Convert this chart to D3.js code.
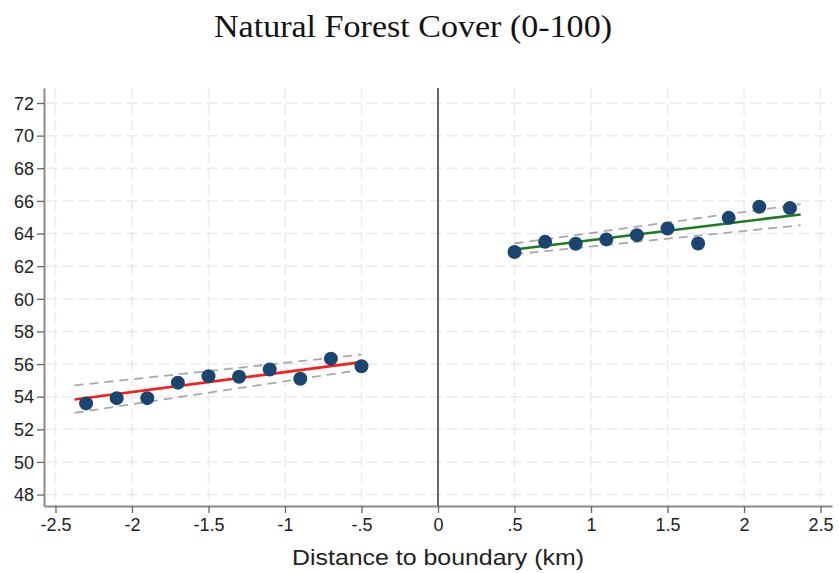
<!DOCTYPE html>
<html>
<head>
<meta charset="utf-8">
<script src="https://cdn.jsdelivr.net/npm/d3@7"></script>
<style>
  html, body { margin: 0; padding: 0; background: #fff; }
  svg { display: block; }
</style>
</head>
<body>
<svg id="chart" width="839" height="573"></svg>
<script>
// Binned means of natural forest cover by distance to the boundary (km)
const leftX  = [-2.3, -2.1, -1.9, -1.7, -1.5, -1.3, -1.1, -0.9, -0.7, -0.5];
const leftY  = [53.59, 53.91, 53.91, 54.86, 55.26, 55.22, 55.67, 55.10, 56.33, 55.87];
const rightX = [0.5, 0.7, 0.9, 1.1, 1.3, 1.5, 1.7, 1.9, 2.1, 2.3];
const rightY = [62.87, 63.49, 63.37, 63.64, 63.90, 64.31, 63.39, 64.96, 65.64, 65.56];

// Linear fits and their confidence bounds: [x, fit, lower, upper]
const leftFit  = [[-2.375, 53.83, 53.01, 54.69], [-0.5, 56.12, 55.65, 56.58]];
const rightFit = [[0.5, 63.02, 62.73, 63.39], [2.37, 65.17, 64.51, 65.80]];

const xTicks = [-2.5, -2, -1.5, -1, -0.5, 0, 0.5, 1, 1.5, 2, 2.5];
const xTickLabels = ["-2.5", "-2", "-1.5", "-1", "-.5", "0", ".5", "1", "1.5", "2", "2.5"];
const yTicks = [48, 50, 52, 54, 56, 58, 60, 62, 64, 66, 68, 70, 72];

const titleText = "Natural Forest Cover (0-100)";
const xTitle = "Distance to boundary (km)";

const svg = d3.select("#chart");
const W = 839, H = 573;
const plot = { left: 44, right: 832, top: 88, bottom: 506 };

const x = d3.scaleLinear().domain([-2.575, 2.575]).range([plot.left, plot.right]);
const y = d3.scaleLinear().domain([47.3, 72.92]).range([plot.bottom, plot.top]);

svg.append("rect").attr("width", W).attr("height", H).attr("fill", "#fff");

// Title
svg.append("text")
  .attr("x", 413).attr("y", 37)
  .attr("text-anchor", "middle")
  .attr("font-family", "'Liberation Serif', 'DejaVu Serif', serif")
  .attr("font-size", 32)
  .attr("textLength", 398)
  .attr("lengthAdjust", "spacingAndGlyphs")
  .attr("fill", "#111")
  .text(titleText);

// Grid
const grid = svg.append("g").attr("stroke", "#ebebeb").attr("stroke-width", 1.5)
  .attr("stroke-dasharray", "11,5");
grid.selectAll("line.h").data(yTicks).join("line")
  .attr("class", "h")
  .attr("x1", plot.left + 2).attr("x2", plot.right)
  .attr("y1", d => y(d)).attr("y2", d => y(d));
grid.selectAll("line.v").data(xTicks).join("line")
  .attr("class", "v")
  .attr("y1", plot.top).attr("y2", plot.bottom - 1)
  .attr("x1", d => x(d)).attr("x2", d => x(d));

// Axes
const axisFont = "'Liberation Sans', Arial, sans-serif";
const yAxis = svg.append("g")
  .attr("transform", `translate(${plot.left},0)`)
  .call(d3.axisLeft(y).tickValues(yTicks).tickSize(7).tickPadding(3).tickSizeOuter(0));
const xAxis = svg.append("g")
  .attr("transform", `translate(0,${plot.bottom})`)
  .call(d3.axisBottom(x).tickValues(xTicks).tickFormat((d, i) => xTickLabels[i])
    .tickSize(7).tickPadding(4).tickSizeOuter(0));

[yAxis, xAxis].forEach(g => {
  g.select(".domain").attr("stroke", "#8a8a8a").attr("stroke-width", 2);
  g.selectAll(".tick line").attr("stroke", "#666").attr("stroke-width", 1.3);
  g.selectAll(".tick text").attr("font-family", axisFont).attr("font-size", 18).attr("fill", "#222");
});
xAxis.selectAll(".tick text").attr("dy", "0.8em");
yAxis.selectAll(".tick text").attr("dy", "0.35em");

// Axis title
svg.append("text")
  .attr("x", x(0)).attr("y", 565)
  .attr("text-anchor", "middle")
  .attr("font-family", axisFont)
  .attr("font-size", 22)
  .attr("textLength", 292)
  .attr("lengthAdjust", "spacingAndGlyphs")
  .attr("fill", "#222")
  .text(xTitle);

// Boundary line at zero
svg.append("line")
  .attr("x1", x(0)).attr("x2", x(0))
  .attr("y1", plot.top).attr("y2", plot.bottom)
  .attr("stroke", "#666").attr("stroke-width", 2);

// Fits and confidence bounds
const lineOf = idx => d3.line().x(d => x(d[0])).y(d => y(d[idx]));
function drawFit(data, color) {
  [2, 3].forEach(idx => {
    svg.append("path").datum(data)
      .attr("d", lineOf(idx))
      .attr("fill", "none").attr("stroke", "#a9a9a9")
      .attr("stroke-width", 1.8).attr("stroke-dasharray", "9,6");
  });
  svg.append("path").datum(data)
    .attr("d", lineOf(1))
    .attr("fill", "none").attr("stroke", color).attr("stroke-width", 2.6);
}
drawFit(leftFit, "#ff1a1a");
drawFit(rightFit, "#1f7a1f");

// Binned means
const pts = leftX.map((v, i) => [v, leftY[i]]).concat(rightX.map((v, i) => [v, rightY[i]]));
svg.append("g").selectAll("circle").data(pts).join("circle")
  .attr("cx", d => x(d[0])).attr("cy", d => y(d[1]))
  .attr("r", 7)
  .attr("fill", "#1a4570");
</script>
</body>
</html>
